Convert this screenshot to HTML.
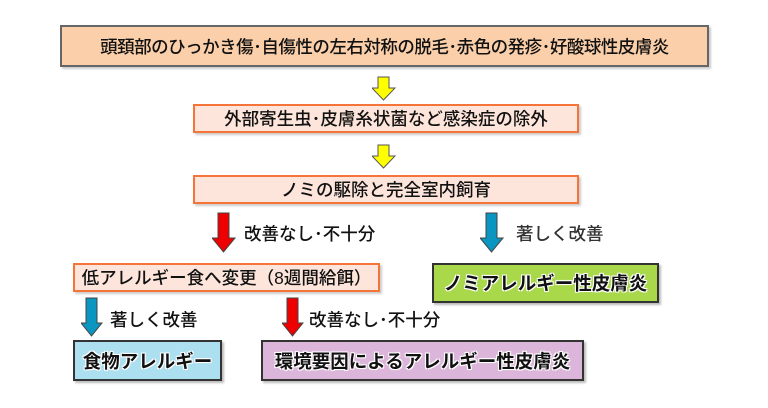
<!DOCTYPE html>
<html><head><meta charset="utf-8"><style>
body{margin:0;width:768px;height:408px;background:#fff;position:relative;overflow:hidden;font-family:"Liberation Sans","Noto Sans CJK JP",sans-serif;color:#111}
.b{position:absolute;box-sizing:border-box;display:flex;align-items:center;justify-content:center;font-size:17.5px;white-space:nowrap;font-weight:500}
.o{background:#fde5dc;border:2px solid #f5743a;box-shadow:2px 2px 2px #ccc}
.k{border:2px solid #333;font-weight:bold;font-size:18.5px;text-shadow:-1px -1px 0 #fff,1px -1px 0 #fff,-1px 1px 0 #fff,1px 1px 0 #fff,0 0 2px #fff;box-shadow:2px 2px 2px #bbb}
.l{position:absolute;font-size:17.5px;white-space:nowrap;font-weight:500}
svg{position:absolute}
</style></head><body>
<div class="b" style="left:60px;top:25px;width:649px;height:42px;background:#fbcfaa;border:2px solid #666;box-shadow:2px 2px 2px #ccc;letter-spacing:-0.5px">頭頚部のひっかき傷･自傷性の左右対称の脱毛･赤色の発疹･好酸球性皮膚炎</div>
<svg style="left:372px;top:76px" width="24" height="26"><polygon points="6,1 17,1 17,12 23,12 11.5,24 0,12 6,12" fill="#ffff00" stroke="#555" stroke-width="1"/></svg>
<div class="b o" style="left:193px;top:104px;width:386px;height:29px">外部寄生虫･皮膚糸状菌など感染症の除外</div>
<svg style="left:372px;top:144px" width="24" height="26"><polygon points="6,1 17,1 17,12 23,12 11.5,24 0,12 6,12" fill="#ffff00" stroke="#555" stroke-width="1"/></svg>
<div class="b o" style="left:193px;top:175px;width:386px;height:29px">ノミの駆除と完全室内飼育</div>
<svg style="left:212px;top:212px" width="24" height="42"><polygon points="6,1 17,1 17,26 23,26 11.5,40 0,26 6,26" fill="#ee0000" stroke="#444" stroke-width="1"/></svg>
<div class="l" style="left:244px;top:221px">改善なし･不十分</div>
<svg style="left:480px;top:212px" width="24" height="42"><polygon points="6,1 17,1 17,26 23,26 11.5,40 0,26 6,26" fill="#0a96c0" stroke="#444" stroke-width="1"/></svg>
<div class="l" style="left:516px;top:221px;color:#333">著しく改善</div>
<div class="b o" style="left:73px;top:263px;width:307px;height:29px">低アレルギー食へ変更（8週間給餌）</div>
<div class="b k" style="left:432px;top:263px;width:227px;height:40px;background:#a9d84a">ノミアレルギー性皮膚炎</div>
<svg style="left:81px;top:297px" width="22" height="42"><polygon points="5,1 16,1 16,26 21,26 10.5,39 0,26 5,26" fill="#0a96c0" stroke="#444" stroke-width="1"/></svg>
<div class="l" style="left:110px;top:307px">著しく改善</div>
<svg style="left:282px;top:297px" width="22" height="42"><polygon points="5,1 16,1 16,26 21,26 10.5,39 0,26 5,26" fill="#ee0000" stroke="#444" stroke-width="1"/></svg>
<div class="l" style="left:309px;top:307px">改善なし･不十分</div>
<div class="b k" style="left:73px;top:340px;width:149px;height:41px;background:#acdff0">食物アレルギー</div>
<div class="b k" style="left:261px;top:340px;width:323px;height:41px;background:#dcb6da">環境要因によるアレルギー性皮膚炎</div>
</body></html>
